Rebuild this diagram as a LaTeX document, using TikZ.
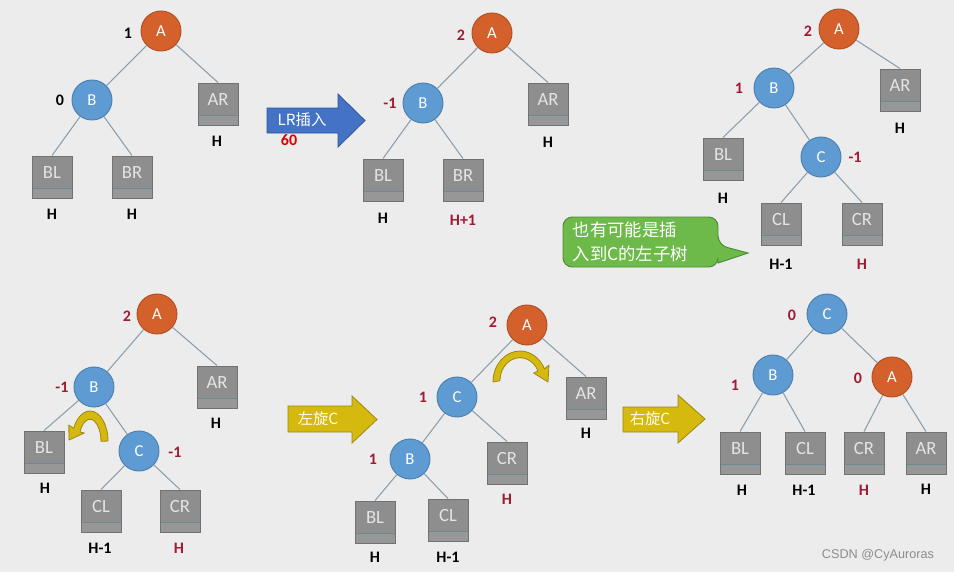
\documentclass[tikz,border=0pt]{standalone}
\usepackage{fontspec}
\setmainfont{Carlito}
\newfontfamily\cjk{Noto Sans CJK SC}
\newfontfamily\wmfont{Liberation Sans}
\definecolor{bg}{HTML}{ECECEC}
\definecolor{orangeA}{HTML}{D4602C}
\definecolor{orangeL}{HTML}{B04E22}
\definecolor{blueB}{HTML}{5E9BD2}
\definecolor{blueL}{HTML}{4A7FAE}
\definecolor{boxfill}{HTML}{8E8E8E}
\definecolor{boxline}{HTML}{727272}
\definecolor{stripfill}{HTML}{979797}
\definecolor{stripline}{HTML}{6C8893}
\definecolor{boxtext}{HTML}{E4E4E4}
\definecolor{edgec}{HTML}{8A9FAB}
\definecolor{redlab}{HTML}{9E1B33}
\definecolor{arrblue}{HTML}{4472C4}
\definecolor{arrblueL}{HTML}{2F5597}
\definecolor{arryel}{HTML}{D6B90F}
\definecolor{arryelL}{HTML}{9C8610}
\definecolor{callg}{HTML}{6DBA4A}
\definecolor{callgL}{HTML}{4F8A33}
\tikzset{
  circA/.style={circle, minimum size=30pt, inner sep=0pt, fill=orangeA, draw=orangeL, line width=0.7pt, text=white, font=\fontsize{12.5}{14}\selectfont},
  circB/.style={circle, minimum size=30pt, inner sep=0pt, fill=blueB, draw=blueL, line width=0.7pt, text=white, font=\fontsize{12.5}{14}\selectfont},
  tbox/.style={rectangle, minimum width=30pt, minimum height=31.5pt, inner sep=0pt, fill=boxfill, draw=boxline, line width=0.7pt,
    path picture={\fill[stripfill] (path picture bounding box.south west) rectangle ([yshift=7.5pt]path picture bounding box.south east);
      \draw[stripline, line width=0.7pt] ([yshift=7.5pt]path picture bounding box.south west) -- ([yshift=7.5pt]path picture bounding box.south east);}},
  boxtxt/.style={text=boxtext, font=\fontsize{14}{16}\selectfont, yshift=3.5pt},
  lab/.style={font=\bfseries\fontsize{12}{14}\selectfont, text=black},
  rlab/.style={font=\bfseries\fontsize{12}{14}\selectfont, text=redlab},
  edge/.style={draw=edgec, line width=0.8pt},
  curvearr/.style={fill=arryel, draw=arryelL, line width=0.6pt, line join=round},
  blockblue/.style={fill=arrblue, draw=arrblueL, line width=0.6pt},
  blockyel/.style={fill=arryel, draw=arryelL, line width=0.6pt},
  arrtxt/.style={font=\cjk\fontsize{11.5}{13}\selectfont}
}
\begin{document}
\begin{tikzpicture}[x=0.75pt,y=-0.75pt]
\useasboundingbox (0,0) rectangle (954,572);
\fill[bg] (0,0) rectangle (954,572);

% ---------- Panel 1 ----------
\node[circA] (p1A) at (161,31) {A};
\node[circB] (p1B) at (92,100) {B};
\node[tbox, label={[boxtxt]center:AR}] (p1AR) at (218,104) {};
\node[tbox, label={[boxtxt]center:BL}] (p1BL) at (52,177) {};
\node[tbox, label={[boxtxt]center:BR}] (p1BR) at (132,177) {};
\draw[edge] (p1A) -- (p1B);
\draw[edge] (p1A) -- (p1AR.north);
\draw[edge] (p1B) -- (p1BL.north);
\draw[edge] (p1B) -- (p1BR.north);
\node[lab] (p1lA) at (128,33) {1};
\node[lab] (p1lB) at (60,100) {0};
\node[lab] (p1hAR) at (217,141) {H};
\node[lab] (p1hBL) at (52,214) {H};
\node[lab] (p1hBR) at (132,214) {H};

% ---------- Arrow LR ----------
\filldraw[blockblue] (267,108) -- (338,108) -- (338,94) -- (365,120.5) -- (338,147) -- (338,133) -- (267,133) -- cycle;
\node[arrtxt, text=white] (lrtxt) at (302,120) {LR插入};
\node[font=\bfseries\fontsize{12}{13}\selectfont, text=red!85!black] (sixty) at (289,140) {60};

% ---------- Panel 2 ----------
\node[circA] (p2A) at (492,33) {A};
\node[circB] (p2B) at (423,103) {B};
\node[tbox, label={[boxtxt]center:AR}] (p2AR) at (548,104) {};
\node[tbox, label={[boxtxt]center:BL}] (p2BL) at (383,180) {};
\node[tbox, label={[boxtxt]center:BR}] (p2BR) at (463,180) {};
\draw[edge] (p2A) -- (p2B);
\draw[edge] (p2A) -- (p2AR.north);
\draw[edge] (p2B) -- (p2BL.north);
\draw[edge] (p2B) -- (p2BR.north);
\node[rlab] (p2lA) at (461,35) {2};
\node[rlab] (p2lB) at (390,103) {-1};
\node[lab] (p2hAR) at (548,142) {H};
\node[lab] (p2hBL) at (383,218) {H};
\node[rlab] (p2hBR) at (463,220) {H+1};

% ---------- Panel 3 ----------
\node[circA] (p3A) at (839,29) {A};
\node[circB] (p3B) at (774,88) {B};
\node[circB] (p3C) at (821,157) {C};
\node[tbox, label={[boxtxt]center:AR}] (p3AR) at (900,90) {};
\node[tbox, label={[boxtxt]center:BL}] (p3BL) at (723,159) {};
\node[tbox, label={[boxtxt]center:CL}] (p3CL) at (781,224) {};
\node[tbox, label={[boxtxt]center:CR}] (p3CR) at (862,224) {};
\draw[edge] (p3A) -- (p3B);
\draw[edge] (p3A) -- (p3AR.north);
\draw[edge] (p3B) -- (p3BL.north);
\draw[edge] (p3B) -- (p3C);
\draw[edge] (p3C) -- (p3CL.north);
\draw[edge] (p3C) -- (p3CR.north);
\node[rlab] (p3lA) at (808,31) {2};
\node[rlab] (p3lB) at (739,88) {1};
\node[rlab] (p3lC) at (855,157) {-1};
\node[lab] (p3hAR) at (900,128) {H};
\node[lab] (p3hBL) at (723,198) {H};
\node[lab] (p3hCL) at (781,264) {H-1};
\node[rlab] (p3hCR) at (862,264) {H};

% callout
\filldraw[fill=callg, draw=callgL, line width=0.7pt, rounded corners=7pt]
  (563,217) -- (718,217) -- (718,245) [sharp corners] -- (748,253) -- (718,263) [rounded corners=7pt] -- (718,267) -- (563,267) -- cycle;
\node[font=\cjk\fontsize{13}{18}\selectfont, text=white, align=left, anchor=west] (calltxt) at (568,242) {也有可能是插\\入到C的左子树};

% ---------- Panel 4 ----------
\node[circA] (p4A) at (157,314) {A};
\node[circB] (p4B) at (94,387) {B};
\node[circB] (p4C) at (139,451) {C};
\node[tbox, label={[boxtxt]center:AR}] (p4AR) at (217,387) {};
\node[tbox, label={[boxtxt]center:BL}] (p4BL) at (44,452) {};
\node[tbox, label={[boxtxt]center:CL}] (p4CL) at (101,511) {};
\node[tbox, label={[boxtxt]center:CR}] (p4CR) at (180,511) {};
\draw[edge] (p4A) -- (p4B);
\draw[edge] (p4A) -- (p4AR.north);
\draw[edge] (p4B) -- (p4BL.north);
\draw[edge] (p4B) -- (p4C);
\draw[edge] (p4C) -- (p4CL.north);
\draw[edge] (p4C) -- (p4CR.north);
\node[rlab] (p4lA) at (127,316) {2};
\node[rlab] (p4lB) at (62,387) {-1};
\node[rlab] (p4lC) at (175,452) {-1};
\node[lab] (p4hAR) at (216,423) {H};
\node[lab] (p4hBL) at (45,488) {H};
\node[lab] (p4hCL) at (100,548) {H-1};
\node[rlab] (p4hCR) at (179,548) {H};
% curved arrow (rotate left about B)
\filldraw[curvearr] (108,441) arc[start angle=0, end angle=-155, x radius=18, y radius=30]
  -- (68.8,425) -- (69,440) -- (84.4,433) -- (80,432)
  arc[start angle=-155, end angle=0, x radius=11, y radius=22] -- cycle;

% ---------- Arrow 左旋C ----------
\filldraw[blockyel] (288,406) -- (352,406) -- (352,396) -- (377,419.5) -- (352,443) -- (352,432) -- (288,432) -- cycle;
\node[arrtxt, text=white!92!yellow] (ltxt) at (318,419) {左旋C};

% ---------- Panel 5 ----------
\node[circA] (p5A) at (527,325) {A};
\node[circB] (p5C) at (457,397) {C};
\node[circB] (p5B) at (410,459) {B};
\node[tbox, label={[boxtxt]center:AR}] (p5AR) at (586,398) {};
\node[tbox, label={[boxtxt]center:CR}] (p5CR) at (507,463) {};
\node[tbox, label={[boxtxt]center:BL}] (p5BL) at (375,522) {};
\node[tbox, label={[boxtxt]center:CL}] (p5CL) at (448,520) {};
\draw[edge] (p5A) -- (p5C);
\draw[edge] (p5A) -- (p5AR.north);
\draw[edge] (p5C) -- (p5B);
\draw[edge] (p5C) -- (p5CR.north);
\draw[edge] (p5B) -- (p5BL.north);
\draw[edge] (p5B) -- (p5CL.north);
\node[rlab] (p5lA) at (493,322) {2};
\node[rlab] (p5lC) at (423,397) {1};
\node[rlab] (p5lB) at (373,459) {1};
\node[lab] (p5hAR) at (586,433) {H};
\node[rlab] (p5hCR) at (507,499) {H};
\node[lab] (p5hBL) at (375,557) {H};
\node[lab] (p5hCL) at (448,557) {H-1};
% curved arrow (rotate right about A)
\filldraw[curvearr] (493,382) arc[start angle=180, end angle=335, x radius=27, y radius=31]
  -- (549,365) -- (548,382) -- (533.6,373) -- (538.1,371)
  arc[start angle=335, end angle=180, x radius=20, y radius=23] -- cycle;

% ---------- Arrow 右旋C ----------
\filldraw[blockyel] (623,407) -- (678,407) -- (678,395) -- (705,419) -- (678,443) -- (678,432) -- (623,432) -- cycle;
\node[arrtxt, text=white!92!yellow] (rtxt) at (650,419) {右旋C};

% ---------- Panel 6 ----------
\node[circB] (p6C) at (827,314) {C};
\node[circB] (p6B) at (773,375) {B};
\node[circA] (p6A) at (892,377) {A};
\node[tbox, label={[boxtxt]center:BL}] (p6BL) at (740,453) {};
\node[tbox, label={[boxtxt]center:CL}] (p6CL) at (805,453) {};
\node[tbox, label={[boxtxt]center:CR}] (p6CR) at (864,453) {};
\node[tbox, label={[boxtxt]center:AR}] (p6AR) at (926,453) {};
\draw[edge] (p6C) -- (p6B);
\draw[edge] (p6C) -- (p6A);
\draw[edge] (p6B) -- (p6BL.north);
\draw[edge] (p6B) -- (p6CL.north);
\draw[edge] (p6A) -- (p6CR.north);
\draw[edge] (p6A) -- (p6AR.north);
\node[rlab] (p6lC) at (792,315) {0};
\node[rlab] (p6lB) at (735,385) {1};
\node[rlab] (p6lA) at (858,378) {0};
\node[lab] (p6hBL) at (742,490) {H};
\node[lab] (p6hCL) at (804,490) {H-1};
\node[rlab] (p6hCR) at (864,490) {H};
\node[lab] (p6hAR) at (926,489) {H};

\node[font=\wmfont\fontsize{9.5}{11}\selectfont, text=black!45] (wm) at (878,555) {CSDN @CyAuroras};
\end{tikzpicture}
\end{document}
